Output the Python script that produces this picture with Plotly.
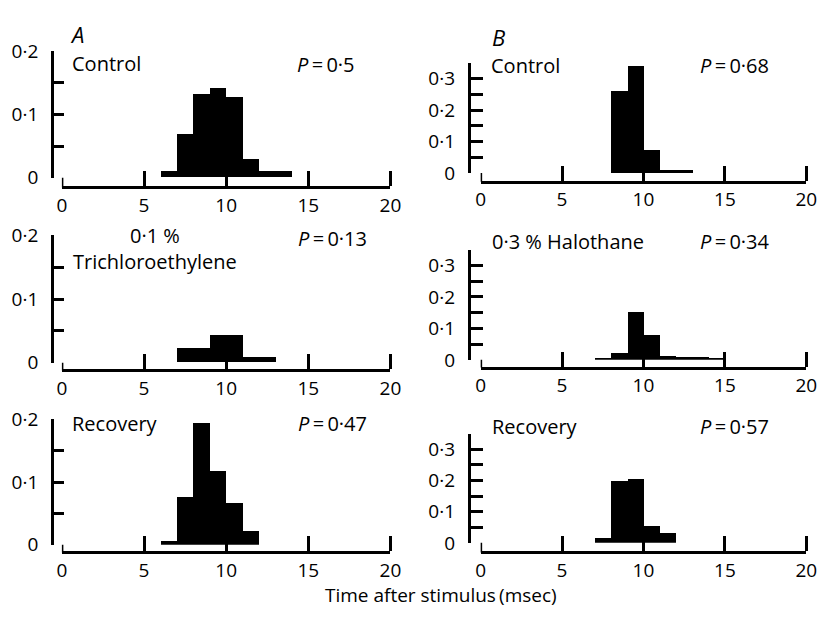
import plotly.graph_objects as go

# ---------------- data ----------------
bin_width = 1.0  # msec

a_control_start = 6
a_control_vals = [0.010, 0.068, 0.132, 0.142, 0.127, 0.029, 0.010, 0.010]

b_control_start = 8
b_control_vals = [0.260, 0.340, 0.073, 0.010, 0.010]

a_tce_start = 7
a_tce_vals = [0.023, 0.023, 0.043, 0.043, 0.008, 0.008]

b_halo_start = 7
b_halo_vals = [0.006, 0.024, 0.154, 0.079, 0.013, 0.009, 0.009, 0.006]

a_rec_start = 6
a_rec_vals = [0.005, 0.076, 0.193, 0.117, 0.066, 0.021]

b_rec_start = 7
b_rec_vals = [0.016, 0.200, 0.205, 0.056, 0.032]

x_tickvals = [0, 5, 10, 15, 20]
x_ticktext = ["0", "5", "10", "15", "20"]
a_y_tickvals = [0, 0.05, 0.1, 0.15, 0.2]
a_y_ticktext = ["0", "", "0·1", "", "0·2"]
b_y_tickvals = [0, 0.05, 0.1, 0.15, 0.2, 0.25, 0.3, 0.35]
b_y_ticktext = ["0", "", "0·1", "", "0·2", "", "0·3", ""]

# ---------------- layout helpers ----------------
W, H = 831, 621
FONT = "Open Sans"
TICK_SIZE = 19
TEXT_SIZE = 20
LW = 3

def px(x):
    return x / W

def py(y):
    return 1 - y / H

panels = [
    # (start, vals, ymax, yvals, ytext, yaxis_x, x0px, x20px, top_px, zero_px, axis_px, ticklen)
    (a_control_start, a_control_vals, 0.2, a_y_tickvals, a_y_ticktext, 48, 58, 393, 40, 172, 182, 10),
    (b_control_start, b_control_vals, 0.35, b_y_tickvals, b_y_ticktext, 473, 485, 817, 52, 167, 176, 12),
    (a_tce_start, a_tce_vals, 0.2, a_y_tickvals, a_y_ticktext, 48, 58, 393, 232, 365, 373, 10),
    (b_halo_start, b_halo_vals, 0.35, b_y_tickvals, b_y_ticktext, 473, 485, 817, 247, 362, 370, 12),
    (a_rec_start, a_rec_vals, 0.2, a_y_tickvals, a_y_ticktext, 48, 58, 393, 424, 555, 563, 10),
    (b_rec_start, b_rec_vals, 0.35, b_y_tickvals, b_y_ticktext, 473, 485, 817, 439, 553, 563, 12),
]

fig = go.Figure()
layout = {}
shapes = []

for i, (start, vals, ymax, yv, yt, yax_x, x0p, x20p, top_p, zero_p, axis_p, tl) in enumerate(panels, start=1):
    xname = "x" if i == 1 else f"x{i}"
    yname = "y" if i == 1 else f"y{i}"
    centers = [start + bin_width * (k + 0.5) for k in range(len(vals))]
    fig.add_trace(go.Bar(
        x=centers, y=vals, width=bin_width,
        marker=dict(color="black", line=dict(width=0)),
        xaxis=xname, yaxis=yname, showlegend=False, hoverinfo="x+y",
    ))
    layout["xaxis" if i == 1 else f"xaxis{i}"] = dict(
        domain=[px(x0p), px(x20p)], range=[0, 20],
        anchor="free", position=py(axis_p),
        tickmode="array", tickvals=x_tickvals, ticktext=x_ticktext,
        ticks="outside", ticklen=0,
        minor=dict(tickmode="array", tickvals=[5, 10, 15, 20], ticks="inside",
                   ticklen=15, tickwidth=LW, tickcolor="black"),
        showline=True, linewidth=LW, linecolor="black",
        showgrid=False, zeroline=False,
        tickfont=dict(family=FONT, size=TICK_SIZE, color="black"),
        fixedrange=True,
    )
    layout["yaxis" if i == 1 else f"yaxis{i}"] = dict(
        domain=[py(zero_p), py(top_p)], range=[0, ymax],
        anchor="free", position=px(yax_x),
        tickmode="array", tickvals=yv, ticktext=yt,
        ticks="inside", ticklen=tl, tickwidth=LW, tickcolor="black",
        ticklabelstandoff=9,
        showline=True, linewidth=LW, linecolor="black",
        showgrid=False, zeroline=False,
        tickfont=dict(family=FONT, size=TICK_SIZE, color="black"),
        fixedrange=True,
    )
    shapes.append(dict(type="line", xref=xname, yref="paper",
                       x0=0, x1=0, y0=py(zero_p), y1=py(axis_p),
                       line=dict(color="black", width=LW)))

def txt(s, x, y, size=TEXT_SIZE, xanchor="left", italic=False, align="left"):
    return dict(text=s, x=px(x), y=py(y), xref="paper", yref="paper",
                xanchor=xanchor, yanchor="middle", showarrow=False, align=align,
                font=dict(family=FONT, size=size, color="black",
                          style="italic" if italic else "normal"))

annotations = [
    txt("A", 73, 22, size=22, xanchor="center", italic=True),
    txt("B", 503, 25, size=22, xanchor="center", italic=True),
    txt("Control", 66, 53),
    txt("<i>P</i>\u2009=\u20090·5", 296, 54),
    txt("Control", 493, 55),
    txt("<i>P</i>\u2009=\u20090·68", 707, 55),
    txt("0·1 %<br>Trichloroethylene", 153, 246, xanchor="center", align="center"),
    txt("<i>P</i>\u2009=\u20090·13", 297, 235),
    txt("0·3 % Halothane", 495, 238),
    txt("<i>P</i>\u2009=\u20090·34", 707, 238),
    txt("Recovery", 66, 428),
    txt("<i>P</i>\u2009=\u20090·47", 297, 428),
    txt("Recovery", 495, 432),
    txt("<i>P</i>\u2009=\u20090·57", 707, 432),
    txt("Time after stimulus\u2009(msec)", 445, 607, size=19, xanchor="center"),
]

fig.update_layout(
    width=W, height=H, margin=dict(l=0, r=0, t=0, b=0),
    paper_bgcolor="white", plot_bgcolor="rgba(0,0,0,0)",
    bargap=0, showlegend=False,
    shapes=shapes, annotations=annotations,
    **layout,
)

fig.write_html("out.html")
